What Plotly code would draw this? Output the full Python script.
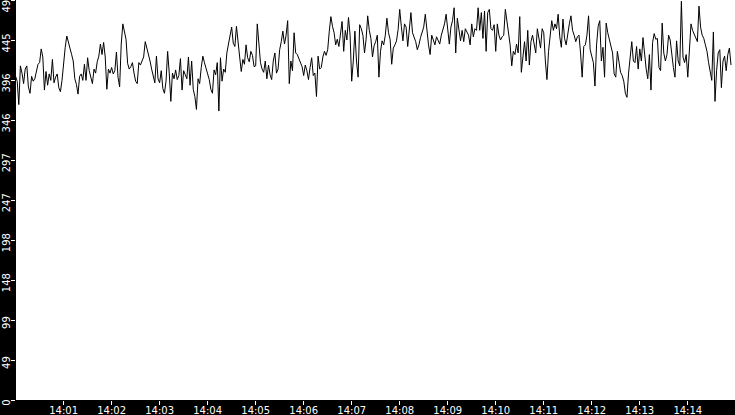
import pandas as pd
import plotly.graph_objects as go

# ─────────────────────────────────────────────
# Data (one sample every 2 s, 14:00:00 -> 14:14:58)

start_time = "2024-01-01 14:00:00"
sample_step = "2s"

load = [
    # 14:00:00 - 14:01:52
    401, 395, 366, 414, 405, 392, 410, 414, 388, 380, 401, 395, 398, 409, 416, 418,
    435, 425, 384, 407, 390, 404, 396, 422, 393, 400, 404, 387, 382, 396, 419, 437,
    451, 444, 438, 428, 420, 398, 391, 379, 401, 404, 396, 416, 396, 424, 408, 401,
    392, 410, 405, 419, 426, 441, 428, 443,
    # 14:01:52 - 14:03:44
    425, 385, 410, 405, 412, 404, 408, 431, 400, 388, 441, 466, 454, 447, 417, 410,
    413, 418, 405, 395, 392, 418, 415, 419, 425, 444, 436, 431, 420, 410, 400, 393,
    426, 398, 393, 408, 386, 380, 395, 432, 405, 370, 405, 398, 409, 397, 402, 423,
    384, 408, 403, 398, 425, 390, 420, 385,
    # 14:03:44 - 14:05:36
    376, 360, 398, 392, 412, 426, 418, 412, 404, 397, 385, 380, 409, 403, 418, 358,
    424, 395, 410, 406, 430, 441, 451, 462, 442, 438, 463, 447, 425, 407, 422, 416,
    440, 424, 419, 432, 427, 413, 414, 466, 436, 418, 410, 406, 420, 398, 415, 403,
    397, 420, 430, 405, 410, 434, 444, 457,
    # 14:05:36 - 14:07:28
    441, 452, 470, 392, 420, 408, 455, 430, 428, 423, 418, 413, 402, 415, 408, 397,
    412, 424, 402, 405, 376, 426, 410, 412, 425, 432, 427, 434, 457, 475, 463, 455,
    440, 447, 438, 452, 469, 432, 458, 446, 474, 452, 395, 420, 457, 420, 400, 465,
    460, 452, 430, 447, 476, 458, 448, 425,
    # 14:07:28 - 14:09:20
    439, 444, 452, 400, 432, 445, 440, 452, 473, 455, 447, 416, 436, 440, 445, 459,
    484, 463, 445, 466, 462, 438, 462, 480, 455, 450, 444, 434, 440, 449, 455, 462,
    478, 458, 440, 428, 452, 446, 440, 450, 446, 441, 452, 459, 466, 478, 462, 441,
    462, 470, 486, 430, 473, 460, 445, 458,
    # 14:09:20 - 14:11:12
    444, 460, 456, 452, 440, 466, 450, 460, 458, 486, 458, 480, 448, 482, 432, 480,
    484, 460, 458, 465, 432, 466, 452, 446, 450, 452, 484, 468, 456, 440, 414, 432,
    428, 441, 430, 475, 406, 428, 444, 420, 458, 415, 444, 452, 443, 430, 460, 448,
    436, 460, 455, 420, 397, 432, 455, 470,
    # 14:11:12 - 14:13:04
    458, 466, 460, 478, 450, 437, 472, 448, 440, 455, 466, 476, 458, 452, 444, 450,
    452, 430, 400, 438, 440, 452, 476, 434, 425, 418, 389, 440, 463, 470, 420, 437,
    400, 467, 455, 446, 440, 430, 404, 400, 432, 415, 406, 402, 395, 380, 375, 405,
    430, 444, 420, 418, 438, 410, 435, 420,
    # 14:13:04 - 14:14:58
    449, 426, 410, 398, 428, 384, 443, 454, 447, 448, 412, 408, 467, 430, 420, 428,
    452, 446, 425, 412, 400, 445, 420, 414, 494, 425, 418, 428, 400, 430, 466, 458,
    454, 448, 444, 488, 462, 452, 448, 440, 432, 418, 404, 396, 456, 370, 408, 430,
    434, 387, 420, 426, 408, 428, 436, 415,
]

y_tick_vals = [0, 49.5, 99, 148.5, 198, 247.5, 297, 346.5, 396, 445.5, 495]
y_tick_text = ["0", "49", "99", "148", "198", "247", "297", "346", "396", "445", "495"]

times = pd.date_range(start_time, periods=len(load), freq=sample_step)

# ─────────────────────────────────────────────
# Figure

fig = go.Figure(go.Scatter(
    x=times, y=load, mode="lines",
    line=dict(color="black", width=1),
    hoverinfo="skip",
))

font = dict(family="DejaVu Sans", size=10, color="white")

fig.update_layout(
    width=735, height=415,
    margin=dict(l=16, r=0, t=0, b=15, pad=0),
    paper_bgcolor="black", plot_bgcolor="white",
    showlegend=False,
    font=font,
)

fig.update_xaxes(
    type="date", automargin=False,
    range=["2024-01-01 14:00:00.5", "2024-01-01 14:14:59"],
    tick0="2024-01-01 14:01:00", dtick=60000,
    tickformat="%H:%M",
    ticks="outside", ticklen=4, tickcolor="white", tickwidth=1,
    ticklabelstandoff=-3,
    showgrid=False, zeroline=False, showline=False,
    tickfont=font,
)

fig.update_yaxes(
    automargin=False,
    range=[0, 495.6],
    tickmode="array", tickvals=y_tick_vals, ticktext=y_tick_text,
    tickangle=-90,
    ticks="outside", ticklen=4, tickcolor="white", tickwidth=1,
    ticklabelshift=4, ticklabelstandoff=-3,
    ticklabeloverflow="allow",
    showgrid=False, zeroline=False, showline=False,
    tickfont=font,
)

# page has a default 8px body margin; drop it so the chart fills the window
fig.write_html(
    "out.html",
    config={"displayModeBar": False},
    post_script="document.body.style.margin='0';",
)
